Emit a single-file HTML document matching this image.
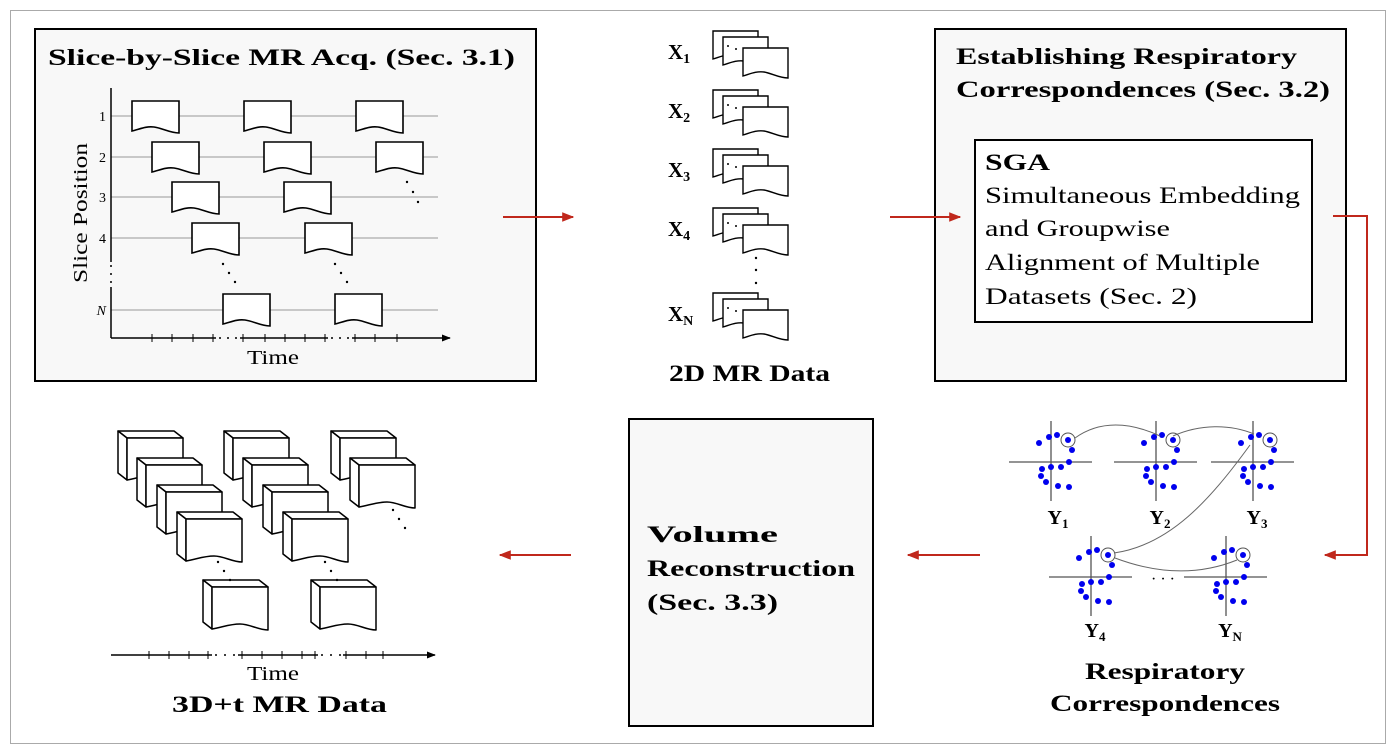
<!DOCTYPE html>
<html><head><meta charset="utf-8"><style>
html,body{margin:0;padding:0;background:#fff;}
svg{display:block;font-family:"Liberation Serif",serif;}
</style></head><body>
<svg width="1396" height="752" viewBox="0 0 1396 752" xmlns="http://www.w3.org/2000/svg">
<defs>
<path id="doc" d="M0,0H47V32C38,32 30,27 22,26C14,25 8,28 0,30Z" fill="#fff" stroke="#000" stroke-width="1.6"/>
<path id="doc2" d="M0,0H45V30C36,30 28,25 21,24C13,23 7,26 0,28Z" fill="#fff" stroke="#000" stroke-width="1.4"/>
<g id="stack">
<use href="#doc2" x="0" y="0"/>
<use href="#doc2" x="10" y="6"/>
<circle cx="15" cy="15" r="1" fill="#000"/><circle cx="23" cy="18" r="1" fill="#000"/>
<use href="#doc2" x="30" y="17"/>
</g>
<g id="vol" fill="#fff" stroke="#000" stroke-width="1.5" stroke-linejoin="round">
<path d="M0,0H56L65,7H9Z"/>
<path d="M0,0L9,7V49L0,42Z"/>
<path d="M9,7H65V50C55,50 47,44 37,44C27,44 20,47 9,49Z"/>
</g>
<g id="sc" fill="#0000ee">
<line x1="-42" y1="0" x2="41" y2="0" stroke="#555" stroke-width="1.3"/>
<line x1="0" y1="-41" x2="0" y2="39" stroke="#555" stroke-width="1.3"/>
<circle cx="-12" cy="-19" r="3"/><circle cx="-2" cy="-25" r="3"/><circle cx="6" cy="-27" r="3"/><circle cx="17" cy="-22" r="3"/>
<circle cx="21" cy="-12" r="3"/><circle cx="18" cy="0" r="3"/><circle cx="10" cy="5" r="3"/><circle cx="0" cy="5" r="3"/>
<circle cx="-9" cy="7" r="3"/><circle cx="-10" cy="14" r="3"/><circle cx="-5" cy="20" r="3"/><circle cx="7" cy="24" r="3"/><circle cx="18" cy="25" r="3"/>
<circle cx="17" cy="-22" r="7" fill="none" stroke="#555" stroke-width="1"/>
</g>
<marker id="ar" viewBox="0 0 10 10" refX="9" refY="5" markerWidth="6" markerHeight="6" orient="auto"><path d="M0,1L10,5L0,9Z" fill="#c0281c"/></marker>
<marker id="ak" viewBox="0 0 10 10" refX="9" refY="5" markerWidth="6" markerHeight="6" orient="auto"><path d="M0,1L10,5L0,9Z" fill="#000"/></marker>
</defs>
<rect x="10.5" y="10.5" width="1375" height="733" fill="#fff" stroke="#aaa" stroke-width="1"/>

<!-- Box 1 -->
<rect x="35" y="29" width="501" height="352" fill="#f8f8f8" stroke="#000" stroke-width="2"/>
<text x="48" y="65" font-size="23" font-weight="bold" textLength="467" lengthAdjust="spacingAndGlyphs">Slice-by-Slice MR Acq. (Sec. 3.1)</text>
<g stroke="#aaa" stroke-width="1.2">
<line x1="111" y1="116" x2="438" y2="116"/><line x1="111" y1="157" x2="438" y2="157"/>
<line x1="111" y1="197" x2="438" y2="197"/><line x1="111" y1="238" x2="438" y2="238"/>
<line x1="111" y1="310" x2="438" y2="310"/>
</g>
<g stroke="#000" stroke-width="1.5">
<line x1="111" y1="88" x2="111" y2="262"/><line x1="111" y1="287" x2="111" y2="338"/>
<line x1="111" y1="338" x2="450" y2="338" marker-end="url(#ak)"/>
</g>
<g stroke="#000" stroke-width="1">
<line x1="152" y1="334" x2="152" y2="342"/><line x1="172" y1="334" x2="172" y2="342"/><line x1="193" y1="334" x2="193" y2="342"/><line x1="213" y1="334" x2="213" y2="342"/>
<line x1="243" y1="334" x2="243" y2="342"/><line x1="265" y1="334" x2="265" y2="342"/><line x1="285" y1="334" x2="285" y2="342"/><line x1="305" y1="334" x2="305" y2="342"/><line x1="325" y1="334" x2="325" y2="342"/>
<line x1="355" y1="334" x2="355" y2="342"/><line x1="375" y1="334" x2="375" y2="342"/><line x1="397" y1="334" x2="397" y2="342"/>
</g>
<g fill="#f8f8f8"><rect x="216" y="336" width="24" height="5"/><rect x="328" y="336" width="24" height="5"/></g>
<g fill="#000"><circle cx="220" cy="338" r="1"/><circle cx="228" cy="338" r="1"/><circle cx="236" cy="338" r="1"/><circle cx="332" cy="338" r="1"/><circle cx="340" cy="338" r="1"/><circle cx="348" cy="338" r="1"/>
<circle cx="111" cy="266" r="1"/><circle cx="111" cy="274" r="1"/><circle cx="111" cy="282" r="1"/>
<circle cx="407" cy="182" r="1.2"/><circle cx="413" cy="192" r="1.2"/><circle cx="418" cy="202" r="1.2"/>
<circle cx="223" cy="264" r="1.2"/><circle cx="229" cy="273" r="1.2"/><circle cx="235" cy="282" r="1.2"/>
<circle cx="335" cy="264" r="1.2"/><circle cx="341" cy="273" r="1.2"/><circle cx="347" cy="282" r="1.2"/></g>
<g font-size="14" text-anchor="end"><text x="106" y="121">1</text><text x="106" y="162">2</text><text x="106" y="202">3</text><text x="106" y="243">4</text><text x="106" y="315" font-style="italic">N</text></g>
<text x="-283" y="87" font-size="20" transform="rotate(-90)" textLength="140" lengthAdjust="spacingAndGlyphs">Slice Position</text>
<text x="247" y="364" font-size="20" textLength="52" lengthAdjust="spacingAndGlyphs">Time</text>
<use href="#doc" x="132" y="101"/><use href="#doc" x="244" y="101"/><use href="#doc" x="356" y="101"/>
<use href="#doc" x="152" y="142"/><use href="#doc" x="264" y="142"/><use href="#doc" x="376" y="142"/>
<use href="#doc" x="172" y="182"/><use href="#doc" x="284" y="182"/>
<use href="#doc" x="192" y="223"/><use href="#doc" x="305" y="223"/>
<use href="#doc" x="223" y="294"/><use href="#doc" x="335" y="294"/>

<!-- Middle column -->
<g font-size="21" font-weight="bold">
<text x="668" y="59">X<tspan font-size="14" dy="4">1</tspan></text>
<text x="668" y="118">X<tspan font-size="14" dy="4">2</tspan></text>
<text x="668" y="177">X<tspan font-size="14" dy="4">3</tspan></text>
<text x="668" y="236">X<tspan font-size="14" dy="4">4</tspan></text>
<text x="668" y="321">X<tspan font-size="14" dy="4">N</tspan></text>
</g>
<use href="#stack" x="713" y="31"/><use href="#stack" x="713" y="90"/><use href="#stack" x="713" y="149"/><use href="#stack" x="713" y="208"/><use href="#stack" x="713" y="293"/>
<g fill="#000"><circle cx="756" cy="258" r="1.2"/><circle cx="756" cy="270" r="1.2"/><circle cx="756" cy="283" r="1.2"/></g>
<text x="669" y="381" font-size="23" font-weight="bold" textLength="161" lengthAdjust="spacingAndGlyphs">2D MR Data</text>

<!-- Box 3 -->
<rect x="935" y="29" width="411" height="352" fill="#f8f8f8" stroke="#000" stroke-width="2"/>
<text x="956" y="64" font-size="23" font-weight="bold" textLength="341" lengthAdjust="spacingAndGlyphs">Establishing Respiratory</text>
<text x="956" y="97" font-size="23" font-weight="bold" textLength="374" lengthAdjust="spacingAndGlyphs">Correspondences (Sec. 3.2)</text>
<rect x="975" y="140" width="337" height="182" fill="#fff" stroke="#000" stroke-width="2"/>
<text x="985" y="170" font-size="23" font-weight="bold" textLength="65" lengthAdjust="spacingAndGlyphs">SGA</text>
<g font-size="23"><text x="985" y="203" textLength="315" lengthAdjust="spacingAndGlyphs">Simultaneous Embedding</text><text x="985" y="236" textLength="185" lengthAdjust="spacingAndGlyphs">and Groupwise</text><text x="985" y="270" textLength="275" lengthAdjust="spacingAndGlyphs">Alignment of Multiple</text><text x="985" y="304" textLength="212" lengthAdjust="spacingAndGlyphs">Datasets (Sec. 2)</text></g>

<!-- Volume box -->
<rect x="629" y="419" width="244" height="307" fill="#f8f8f8" stroke="#000" stroke-width="2"/>
<g font-size="23" font-weight="bold"><text x="647" y="542" textLength="131" lengthAdjust="spacingAndGlyphs">Volume</text><text x="647" y="576" textLength="208" lengthAdjust="spacingAndGlyphs">Reconstruction</text><text x="647" y="610" textLength="131" lengthAdjust="spacingAndGlyphs">(Sec. 3.3)</text></g>

<!-- Red arrows -->
<g stroke="#c0281c" stroke-width="2" fill="none">
<line x1="503" y1="217" x2="573" y2="217" marker-end="url(#ar)"/>
<line x1="890" y1="217" x2="960" y2="217" marker-end="url(#ar)"/>
<polyline points="1333,216 1367,216 1367,555 1325,555" marker-end="url(#ar)"/>
<line x1="980" y1="555" x2="908" y2="555" marker-end="url(#ar)"/>
<line x1="571" y1="555" x2="500" y2="555" marker-end="url(#ar)"/>
</g>

<!-- Scatter plots -->
<use href="#sc" x="1051" y="462"/><use href="#sc" x="1156" y="462"/><use href="#sc" x="1253" y="462"/>
<use href="#sc" x="1091" y="577"/><use href="#sc" x="1226" y="577"/>
<g fill="none" stroke="#666" stroke-width="1">
<path d="M1075,438C1100,420 1130,422 1160,436"/>
<path d="M1173,436C1200,424 1230,424 1254,434"/>
<path d="M1250,445C1210,500 1170,545 1114,553"/>
<path d="M1115,558C1160,575 1200,575 1237,560"/>
</g>
<g font-size="20" font-weight="bold" text-anchor="middle">
<text x="1058" y="524">Y<tspan font-size="13" dy="4">1</tspan></text>
<text x="1160" y="524">Y<tspan font-size="13" dy="4">2</tspan></text>
<text x="1257" y="524">Y<tspan font-size="13" dy="4">3</tspan></text>
<text x="1095" y="637">Y<tspan font-size="13" dy="4">4</tspan></text>
<text x="1230" y="637">Y<tspan font-size="13" dy="4">N</tspan></text>
</g>
<text x="1163" y="584" font-size="16" text-anchor="middle">· · ·</text>
<g font-size="23" font-weight="bold"><text x="1085" y="679" textLength="160" lengthAdjust="spacingAndGlyphs">Respiratory</text><text x="1050" y="711" textLength="230" lengthAdjust="spacingAndGlyphs">Correspondences</text></g>

<!-- 3D volumes -->
<use href="#vol" x="118" y="431"/><use href="#vol" x="137" y="458"/><use href="#vol" x="157" y="485"/><use href="#vol" x="177" y="512"/>
<use href="#vol" x="224" y="431"/><use href="#vol" x="243" y="458"/><use href="#vol" x="263" y="485"/><use href="#vol" x="283" y="512"/>
<use href="#vol" x="331" y="431"/><use href="#vol" x="350" y="458"/>
<use href="#vol" x="203" y="580"/><use href="#vol" x="311" y="580"/>
<g fill="#000"><circle cx="218" cy="562" r="1.2"/><circle cx="224" cy="571" r="1.2"/><circle cx="230" cy="580" r="1.2"/>
<circle cx="325" cy="562" r="1.2"/><circle cx="331" cy="571" r="1.2"/><circle cx="337" cy="580" r="1.2"/>
<circle cx="393" cy="510" r="1.2"/><circle cx="399" cy="519" r="1.2"/><circle cx="405" cy="528" r="1.2"/></g>
<line x1="111" y1="655" x2="435" y2="655" stroke="#000" stroke-width="1.5" marker-end="url(#ak)"/>
<g stroke="#000" stroke-width="1">
<line x1="149" y1="651" x2="149" y2="659"/><line x1="169" y1="651" x2="169" y2="659"/><line x1="189" y1="651" x2="189" y2="659"/><line x1="208" y1="651" x2="208" y2="659"/>
<line x1="242" y1="651" x2="242" y2="659"/><line x1="262" y1="651" x2="262" y2="659"/><line x1="282" y1="651" x2="282" y2="659"/><line x1="302" y1="651" x2="302" y2="659"/><line x1="315" y1="651" x2="315" y2="659"/>
<line x1="346" y1="651" x2="346" y2="659"/><line x1="366" y1="651" x2="366" y2="659"/><line x1="383" y1="651" x2="383" y2="659"/>
</g>
<g fill="#fff"><rect x="212" y="653" width="26" height="5"/><rect x="318" y="653" width="25" height="5"/></g>
<g fill="#000"><circle cx="216" cy="655" r="1"/><circle cx="225" cy="655" r="1"/><circle cx="234" cy="655" r="1"/><circle cx="322" cy="655" r="1"/><circle cx="331" cy="655" r="1"/><circle cx="340" cy="655" r="1"/></g>
<text x="247" y="680" font-size="20" textLength="52" lengthAdjust="spacingAndGlyphs">Time</text>
<text x="172" y="712" font-size="23" font-weight="bold" textLength="215" lengthAdjust="spacingAndGlyphs">3D+t MR Data</text>
</svg>
</body></html>
